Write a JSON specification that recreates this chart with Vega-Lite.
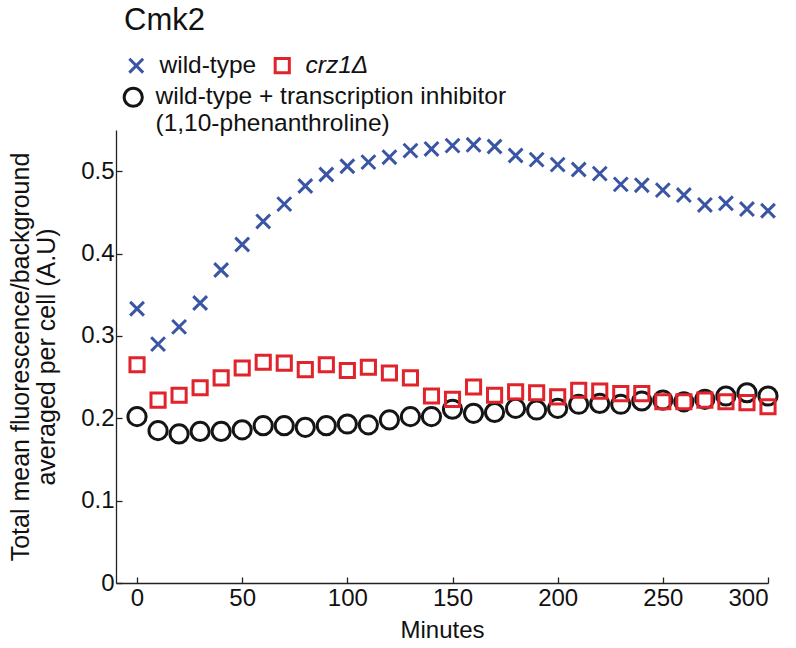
{
  "$schema": "https://vega.github.io/schema/vega-lite/v6.json",
  "width": 652,
  "height": 453,
  "autosize": {"type": "none"},
  "padding": {"left": 116, "top": 130, "right": 28, "bottom": 65},
  "background": "white",
  "config": {
    "view": {"stroke": null},
    "font": "Liberation Sans",
    "axis": {"grid": false, "domainColor": "#222", "tickColor": "#222", "labelColor": "#111", "titleColor": "#111", "labelFont": "Liberation Sans", "titleFont": "Liberation Sans", "titleFontWeight": "normal", "domainWidth": 1.3, "tickWidth": 1.3},
    "legend": {
      "orient": "none", "columnPadding": 12, "rowPadding": 4,
      "titleFont": "Liberation Sans", "titleFontSize": 31, "titleFontWeight": "normal", "titleColor": "#111", "titlePadding": 16,
      "labelFont": "Liberation Sans", "labelFontSize": 24.5, "labelColor": "#111", "labelLimit": 600,
      "symbolStrokeWidth": 3
    }
  },
  "data": {
    "values": [
      {"t": 0, "s": "wt", "v": 0.333}, {"t": 10, "s": "wt", "v": 0.290}, {"t": 20, "s": "wt", "v": 0.311}, {"t": 30, "s": "wt", "v": 0.340}, {"t": 40, "s": "wt", "v": 0.380}, {"t": 50, "s": "wt", "v": 0.411}, {"t": 60, "s": "wt", "v": 0.439}, {"t": 70, "s": "wt", "v": 0.460}, {"t": 80, "s": "wt", "v": 0.482}, {"t": 90, "s": "wt", "v": 0.496}, {"t": 100, "s": "wt", "v": 0.506}, {"t": 110, "s": "wt", "v": 0.511}, {"t": 120, "s": "wt", "v": 0.517}, {"t": 130, "s": "wt", "v": 0.525}, {"t": 140, "s": "wt", "v": 0.527}, {"t": 150, "s": "wt", "v": 0.531}, {"t": 160, "s": "wt", "v": 0.532}, {"t": 170, "s": "wt", "v": 0.530}, {"t": 180, "s": "wt", "v": 0.519}, {"t": 190, "s": "wt", "v": 0.514}, {"t": 200, "s": "wt", "v": 0.508}, {"t": 210, "s": "wt", "v": 0.502}, {"t": 220, "s": "wt", "v": 0.497}, {"t": 230, "s": "wt", "v": 0.484}, {"t": 240, "s": "wt", "v": 0.483}, {"t": 250, "s": "wt", "v": 0.477}, {"t": 260, "s": "wt", "v": 0.471}, {"t": 270, "s": "wt", "v": 0.459}, {"t": 280, "s": "wt", "v": 0.461}, {"t": 290, "s": "wt", "v": 0.454}, {"t": 300, "s": "wt", "v": 0.452},
      {"t": 0, "s": "crz", "v": 0.265}, {"t": 10, "s": "crz", "v": 0.222}, {"t": 20, "s": "crz", "v": 0.228}, {"t": 30, "s": "crz", "v": 0.237}, {"t": 40, "s": "crz", "v": 0.249}, {"t": 50, "s": "crz", "v": 0.261}, {"t": 60, "s": "crz", "v": 0.268}, {"t": 70, "s": "crz", "v": 0.267}, {"t": 80, "s": "crz", "v": 0.259}, {"t": 90, "s": "crz", "v": 0.265}, {"t": 100, "s": "crz", "v": 0.258}, {"t": 110, "s": "crz", "v": 0.262}, {"t": 120, "s": "crz", "v": 0.255}, {"t": 130, "s": "crz", "v": 0.249}, {"t": 140, "s": "crz", "v": 0.227}, {"t": 150, "s": "crz", "v": 0.223}, {"t": 160, "s": "crz", "v": 0.238}, {"t": 170, "s": "crz", "v": 0.228}, {"t": 180, "s": "crz", "v": 0.232}, {"t": 190, "s": "crz", "v": 0.231}, {"t": 200, "s": "crz", "v": 0.226}, {"t": 210, "s": "crz", "v": 0.234}, {"t": 220, "s": "crz", "v": 0.233}, {"t": 230, "s": "crz", "v": 0.230}, {"t": 240, "s": "crz", "v": 0.230}, {"t": 250, "s": "crz", "v": 0.220}, {"t": 260, "s": "crz", "v": 0.220}, {"t": 270, "s": "crz", "v": 0.222}, {"t": 280, "s": "crz", "v": 0.220}, {"t": 290, "s": "crz", "v": 0.219}, {"t": 300, "s": "crz", "v": 0.214},
      {"t": 0, "s": "inh", "v": 0.202}, {"t": 10, "s": "inh", "v": 0.185}, {"t": 20, "s": "inh", "v": 0.181}, {"t": 30, "s": "inh", "v": 0.184}, {"t": 40, "s": "inh", "v": 0.184}, {"t": 50, "s": "inh", "v": 0.186}, {"t": 60, "s": "inh", "v": 0.191}, {"t": 70, "s": "inh", "v": 0.191}, {"t": 80, "s": "inh", "v": 0.189}, {"t": 90, "s": "inh", "v": 0.191}, {"t": 100, "s": "inh", "v": 0.193}, {"t": 110, "s": "inh", "v": 0.192}, {"t": 120, "s": "inh", "v": 0.198}, {"t": 130, "s": "inh", "v": 0.202}, {"t": 140, "s": "inh", "v": 0.202}, {"t": 150, "s": "inh", "v": 0.211}, {"t": 160, "s": "inh", "v": 0.206}, {"t": 170, "s": "inh", "v": 0.207}, {"t": 180, "s": "inh", "v": 0.212}, {"t": 190, "s": "inh", "v": 0.210}, {"t": 200, "s": "inh", "v": 0.212}, {"t": 210, "s": "inh", "v": 0.217}, {"t": 220, "s": "inh", "v": 0.218}, {"t": 230, "s": "inh", "v": 0.217}, {"t": 240, "s": "inh", "v": 0.221}, {"t": 250, "s": "inh", "v": 0.222}, {"t": 260, "s": "inh", "v": 0.220}, {"t": 270, "s": "inh", "v": 0.223}, {"t": 280, "s": "inh", "v": 0.227}, {"t": 290, "s": "inh", "v": 0.231}, {"t": 300, "s": "inh", "v": 0.227}
    ]
  },
  "encoding": {
    "x": {
      "field": "t", "type": "quantitative",
      "scale": {"domain": [-10, 300], "nice": false, "zero": false},
      "axis": {"title": "Minutes", "values": [0, 50, 100, 150, 200, 250, 300], "tickSize": -6, "labelFontSize": 24, "titleFontSize": 24, "labelPadding": 9, "titlePadding": 8}
    },
    "y": {
      "field": "v", "type": "quantitative",
      "scale": {"domain": [0, 0.55], "nice": false},
      "axis": {"title": ["Total mean fluorescence/background", "averaged per cell (A.U)"], "values": [0, 0.1, 0.2, 0.3, 0.4, 0.5], "format": "~g", "tickSize": -6, "labelFontSize": 24, "titleFontSize": 25, "labelPadding": 8, "titlePadding": 21, "titleLineHeight": 26}
    }
  },
  "layer": [
    {
      "transform": [{"filter": "datum.s == 'inh'"}],
      "mark": {"type": "point", "filled": false, "strokeWidth": 3, "opacity": 1},
      "encoding": {
        "shape": {"field": "s", "type": "nominal", "scale": {"domain": ["inh"], "range": ["circle"]},
          "legend": {"title": null, "legendX": 5, "legendY": -45, "labelOffset": 10, "labelExpr": "['wild-type + transcription inhibitor', '(1,10-phenanthroline)']"}},
        "color": {"field": "s", "type": "nominal", "scale": {"domain": ["inh"], "range": ["#151515"]},
          "legend": {"title": null, "legendX": 5, "legendY": -45, "labelOffset": 10, "labelExpr": "['wild-type + transcription inhibitor', '(1,10-phenanthroline)']"}},
        "size": {"field": "s", "type": "nominal", "scale": {"type": "ordinal", "domain": ["inh"], "range": [330]},
          "legend": {"title": null, "legendX": 5, "legendY": -45, "labelOffset": 10, "labelExpr": "['wild-type + transcription inhibitor', '(1,10-phenanthroline)']"}}
      }
    },
    {
      "transform": [{"filter": "datum.s != 'inh'"}],
      "mark": {"type": "point", "filled": false, "strokeWidth": 3, "opacity": 1},
      "encoding": {
        "shape": {"field": "s", "type": "nominal", "scale": {"domain": ["wt", "crz"], "range": ["M-1,-1L1,1M-1,1L1,-1", "square"]},
          "legend": {"title": "Cmk2", "direction": "horizontal", "legendX": 8, "legendY": -124, "labelOffset": 11, "labelExpr": "datum.label == 'wt' ? 'wild-type' : 'crz1Δ'", "labelFontStyle": {"expr": "datum.value == 'crz' ? 'italic' : 'normal'"}}},
        "color": {"field": "s", "type": "nominal", "scale": {"domain": ["wt", "crz"], "range": ["#3a55a4", "#e1232b"]},
          "legend": {"title": "Cmk2", "direction": "horizontal", "legendX": 8, "legendY": -124, "labelOffset": 11, "labelExpr": "datum.label == 'wt' ? 'wild-type' : 'crz1Δ'", "labelFontStyle": {"expr": "datum.value == 'crz' ? 'italic' : 'normal'"}}},
        "size": {"field": "s", "type": "nominal", "scale": {"type": "ordinal", "domain": ["wt", "crz"], "range": [190, 200]},
          "legend": {"title": "Cmk2", "direction": "horizontal", "legendX": 8, "legendY": -124, "labelOffset": 11, "labelExpr": "datum.label == 'wt' ? 'wild-type' : 'crz1Δ'", "labelFontStyle": {"expr": "datum.value == 'crz' ? 'italic' : 'normal'"}}}
      }
    }
  ],
  "resolve": {
    "scale": {"color": "independent", "shape": "independent", "size": "independent"},
    "legend": {"color": "independent", "shape": "independent", "size": "independent"}
  }
}
